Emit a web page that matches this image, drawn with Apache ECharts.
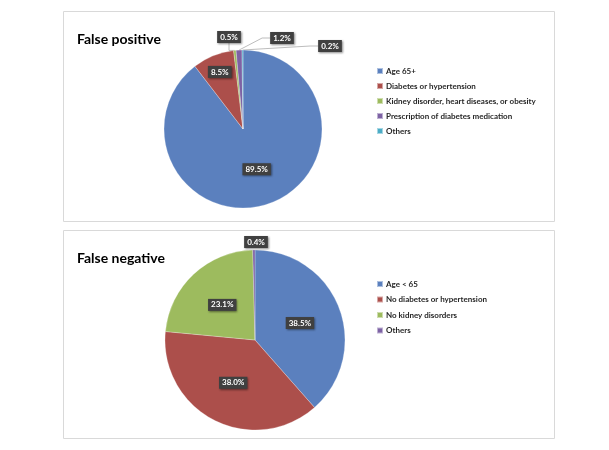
<!DOCTYPE html>
<html>
<head>
<meta charset="utf-8">
<script src="https://cdn.jsdelivr.net/npm/echarts@6/dist/echarts.min.js"></script>
<style>
html,body{margin:0;padding:0;background:#fff;}
#top{position:absolute;left:0;top:0;width:609px;height:226px;}
#bot{position:absolute;left:0;top:226px;width:609px;height:224px;}
</style>
</head>
<body>
<div id="top"></div>
<div id="bot"></div>
<script>
const fpCategories = ['Age 65+', 'Diabetes or hypertension', 'Kidney disorder, heart diseases, or obesity', 'Prescription of diabetes medication', 'Others'];
const fpValues = [89.5, 8.5, 0.5, 1.2, 0.2];
const fnCategories = ['Age < 65', 'No diabetes or hypertension', 'No kidney disorders', 'Others'];
const fnValues = [38.5, 38.0, 23.1, 0.4];

const fpColors = ['#5b80be', '#ac4f4b', '#9dbb5e', '#7d62a4', '#4bacc6'];
const fnColors = ['#5b80be', '#ac4f4b', '#9dbb5e', '#7d62a4'];

const FONT = 'Lato, "DejaVu Sans", sans-serif';

const labelStyle = {
  show: true,
  position: 'inside',
  formatter: p => p.value.toFixed(1) + '%',
  color: '#fff',
  fontFamily: FONT,
  fontWeight: 'bold',
  fontSize: 8,
  backgroundColor: '#404040',
  padding: [2, 3, 2, 3],
  shadowColor: 'rgba(0,0,0,0.45)',
  shadowBlur: 2,
  shadowOffsetX: 1,
  shadowOffsetY: 1
};

function panel(y, h) {
  return [{
    type: 'rect',
    silent: true,
    shape: { x: 63.5, y: y + 0.5, width: 491, height: h },
    style: { fill: 'none', stroke: '#d9d9d9', lineWidth: 1 }
  }];
}

function legend(names, top, gap) {
  return {
    orient: 'vertical',
    left: 371,
    top: top,
    data: names,
    icon: 'rect',
    itemWidth: 6,
    itemHeight: 6,
    itemGap: gap,
    textStyle: { fontFamily: FONT, fontSize: 8, fontWeight: 'bold', color: '#262626', padding: [0, 0, 0, -2] },
    selectedMode: false
  };
}

// ---------- False positive ----------
const fpCenter = [243, 129];
const fpOutsideSpots = { 2: [229, 37], 3: [282, 38], 4: [330, 46] };
const topChart = echarts.init(document.getElementById('top'), null, { renderer: 'canvas' });
topChart.setOption({
  animation: false,
  graphic: panel(11, 210),
  title: {
    text: 'False positive', left: 72, top: 27,
    textStyle: { fontFamily: FONT, fontSize: 14, fontWeight: 'bold', color: '#000' }
  },
  legend: legend(fpCategories, 62, 7),
  series: [{
    type: 'pie',
    center: fpCenter,
    radius: 79,
    startAngle: 90,
    clockwise: true,
    silent: true,
    itemStyle: { borderColor: 'rgba(255,255,255,0.5)', borderWidth: 0.5 },
    label: labelStyle,
    labelLine: { show: true, length: 8, length2: 8, lineStyle: { color: '#a6a6a6', width: 0.75 } },
    labelLayout: function (p) {
      const i = p.dataIndex;
      if (fpOutsideSpots[i]) {
        return { x: fpOutsideSpots[i][0], y: fpOutsideSpots[i][1], align: 'center', verticalAlign: 'middle' };
      }
      if (i === 1) {
        const r = p.labelRect;
        const cx = r.x + r.width / 2, cy = r.y + r.height / 2;
        return {
          x: fpCenter[0] + (cx - fpCenter[0]) * 1.45,
          y: fpCenter[1] + (cy - fpCenter[1]) * 1.45,
          align: 'center', verticalAlign: 'middle'
        };
      }
    },
    data: fpCategories.map((n, i) => ({
      name: n,
      value: fpValues[i],
      itemStyle: { color: fpColors[i] },
      label: i >= 2 ? { position: 'outside' } : { position: 'inside' },
      labelLine: { show: i >= 2 }
    }))
  }]
});

// ---------- False negative ----------
const fnCenter = [255, 114];
const botChart = echarts.init(document.getElementById('bot'), null, { renderer: 'canvas' });
botChart.setOption({
  animation: false,
  graphic: panel(4, 208),
  title: {
    text: 'False negative', left: 72, top: 20,
    textStyle: { fontFamily: FONT, fontSize: 14, fontWeight: 'bold', color: '#000' }
  },
  legend: legend(fnCategories, 49, 7.5),
  series: [{
    type: 'pie',
    center: fnCenter,
    radius: 90,
    startAngle: 90,
    clockwise: true,
    silent: true,
    itemStyle: { borderColor: 'rgba(255,255,255,0.5)', borderWidth: 0.5 },
    label: labelStyle,
    labelLine: { show: false },
    labelLayout: function (p) {
      if (p.dataIndex === 3) {
        return { x: fnCenter[0] + 1, y: fnCenter[1] - 98, align: 'center', verticalAlign: 'middle' };
      }
    },
    data: fnCategories.map((n, i) => ({
      name: n,
      value: fnValues[i],
      itemStyle: { color: fnColors[i] }
    }))
  }]
});
</script>
</body>
</html>
